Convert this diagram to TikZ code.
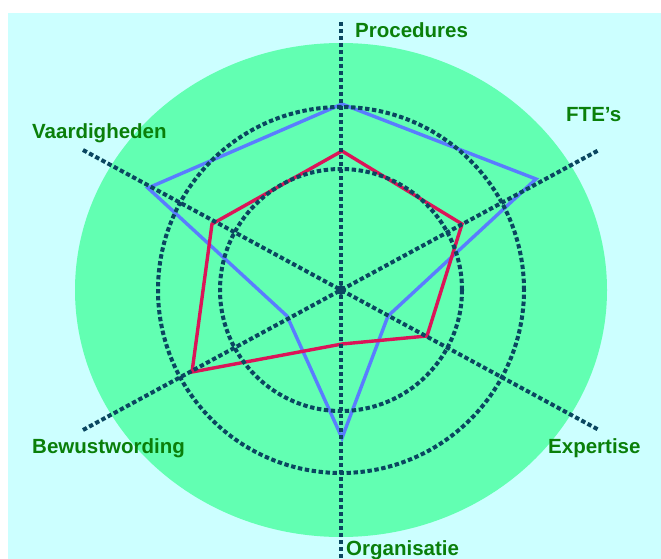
\documentclass[tikz,border=0pt]{standalone}
\usepackage{fontspec}
\setmainfont{Liberation Sans}
\usepackage{tikz}
\usetikzlibrary{calc}
\definecolor{bgcyan}{HTML}{CCFFFF}
\definecolor{areagreen}{HTML}{62FFB2}
\definecolor{dotteal}{HTML}{0A4660}
\definecolor{lblgreen}{HTML}{0A7F0A}
\definecolor{outerblue}{HTML}{5A7CFF}
\definecolor{innerred}{HTML}{DC1458}

\begin{document}
\begin{tikzpicture}[x=1pt,y=-1pt,
    axisline/.style={draw=dotteal,line width=4pt,dash pattern=on 4.4pt off 2.6pt},
    profile/.style={line width=3.4pt,line join=miter},
    lbl/.style={anchor=base west,inner sep=0pt,text=lblgreen,font=\bfseries\fontsize{20.5}{24}\selectfont}]
    \useasboundingbox (0,0) rectangle (661,559);
    \fill[bgcyan] (8,13) rectangle (661,559);
    \coordinate (c) at (341,290);
    \fill[areagreen] (c) ellipse [x radius=266pt, y radius=247pt];
    % outer profile
    \coordinate (b1) at (342,104);
    \coordinate (b2) at (536,179);
    \coordinate (b3) at (388,316);
    \coordinate (b4) at (342,438);
    \coordinate (b5) at (287,316);
    \coordinate (b6) at (148,188);
    \draw[profile,outerblue] (b1) -- (b2) -- (b3) -- (b4) -- (b5) -- (b6) -- cycle;
    % inner profile
    \coordinate (r1) at (342,151);
    \coordinate (r2) at (462,224);
    \coordinate (r3) at (427,336);
    \coordinate (r4) at (342,344);
    \coordinate (r5) at (192,372);
    \coordinate (r6) at (212,224);
    \draw[profile,innerred] (r1) -- (r2) -- (r3) -- (r4) -- (r5) -- (r6) -- cycle;
    % rings and axes
    \foreach \r in {121,183}
    {
      \draw[axisline] (c) circle (\r pt);
    }
    \coordinate (top) at (341,22);
    \coordinate (bottom) at (341,559);
    \coordinate (ul) at (83,150);
    \coordinate (lr) at (599,430);
    \coordinate (ll) at (83,430);
    \coordinate (ur) at (599,150);
    \draw[axisline] (top) -- (bottom);
    \draw[axisline] (ul) -- (lr);
    \draw[axisline] (ll) -- (ur);
    \fill[dotteal] (c) circle (5pt);
    % labels
    \node[lbl] (procedures) at (355,38) {Procedures};
    \node[lbl] (fte) at (566,122) {FTE’s};
    \node[lbl] (vaardigheden) at (32,139) {Vaardigheden};
    \node[lbl] (bewustwording) at (32,453) {Bewustwording};
    \node[lbl] (expertise) at (548,453) {Expertise};
    \node[lbl] (organisatie) at (346,555) {Organisatie};
\end{tikzpicture}
\end{document}
